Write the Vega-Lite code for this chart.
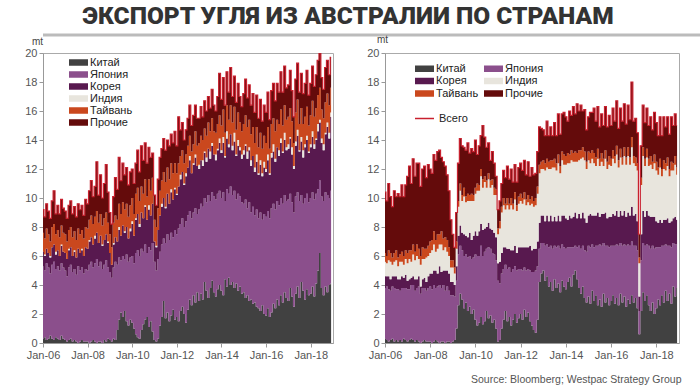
{
"$schema":"https://vega.github.io/schema/vega-lite/v6.json",
"background":"white",
"padding":{"left":10,"right":10,"top":4,"bottom":2},
"title":{"text":"ЭКСПОРТ УГЛЯ ИЗ АВСТРАЛИИ ПО СТРАНАМ","font":"Roboto","fontSize":24.5,"fontWeight":900,"color":"#333333","anchor":"start","dx":72,"offset":4},
"spacing":-4,
"datasets":{
"legend":[{"k":"C","name":"Китай","o":1},{"k":"J","name":"Япония","o":2},{"k":"K","name":"Корея","o":3},{"k":"I","name":"Индия","o":4},{"k":"T","name":"Тайвань","o":5},{"k":"P","name":"Прочие","o":6}],
"thermal":[
{"d":"2006-01","C":0.3,"J":5.0,"K":1.0,"I":0,"T":1.3,"P":1.6},
{"d":"2006-02","C":0.4,"J":4.6,"K":1.0,"I":0.1,"T":1.1,"P":1.5},
{"d":"2006-03","C":0.2,"J":5.3,"K":1.0,"I":0,"T":1.4,"P":1.7},
{"d":"2006-04","C":0.3,"J":4.9,"K":1.0,"I":0,"T":1.3,"P":1.6},
{"d":"2006-05","C":0.5,"J":4.3,"K":1.1,"I":0.1,"T":1.0,"P":1.6},
{"d":"2006-06","C":0.3,"J":5.1,"K":1.2,"I":0,"T":1.4,"P":1.8},
{"d":"2006-07","C":0.2,"J":5.4,"K":1.2,"I":0,"T":1.4,"P":2.3},
{"d":"2006-08","C":0.4,"J":4.7,"K":1.0,"I":0.2,"T":1.2,"P":1.4},
{"d":"2006-09","C":0.3,"J":5.0,"K":1.1,"I":0,"T":1.4,"P":1.7},
{"d":"2006-10","C":0.2,"J":4.8,"K":1.0,"I":0,"T":1.3,"P":1.6},
{"d":"2006-11","C":0.5,"J":5.0,"K":1.2,"I":0.1,"T":1.3,"P":1.8},
{"d":"2006-12","C":0.3,"J":4.9,"K":1.1,"I":0,"T":1.3,"P":1.7},
{"d":"2007-01","C":0.2,"J":4.8,"K":1.2,"I":0,"T":1.3,"P":1.6},
{"d":"2007-02","C":0.1,"J":4.5,"K":1.2,"I":0,"T":1.2,"P":1.6},
{"d":"2007-03","C":0.2,"J":5.0,"K":1.2,"I":0.1,"T":1.3,"P":1.7},
{"d":"2007-04","C":0.3,"J":5.1,"K":1.2,"I":0,"T":1.4,"P":1.8},
{"d":"2007-05","C":0.1,"J":4.8,"K":1.1,"I":0,"T":1.3,"P":1.6},
{"d":"2007-06","C":0.2,"J":4.9,"K":1.2,"I":0.1,"T":1.3,"P":1.7},
{"d":"2007-07","C":0.1,"J":4.6,"K":1.2,"I":0,"T":1.2,"P":1.6},
{"d":"2007-08","C":0.0,"J":5.3,"K":1.2,"I":0,"T":1.4,"P":1.7},
{"d":"2007-09","C":0.1,"J":4.9,"K":1.2,"I":0,"T":1.3,"P":1.7},
{"d":"2007-10","C":0.2,"J":5.0,"K":1.2,"I":0.1,"T":1.3,"P":1.7},
{"d":"2007-11","C":0.1,"J":4.7,"K":1.2,"I":0,"T":1.2,"P":1.6},
{"d":"2007-12","C":0.1,"J":5.0,"K":1.5,"I":0,"T":1.4,"P":1.9},
{"d":"2008-01","C":0.1,"J":4.9,"K":1.5,"I":0,"T":1.4,"P":1.7},
{"d":"2008-02","C":0.0,"J":5.4,"K":1.6,"I":0.1,"T":1.4,"P":2.0},
{"d":"2008-03","C":0.1,"J":5.5,"K":1.7,"I":0,"T":1.5,"P":2.4},
{"d":"2008-04","C":0.2,"J":5.0,"K":1.6,"I":0,"T":1.4,"P":1.9},
{"d":"2008-05","C":0.1,"J":5.4,"K":1.7,"I":0.2,"T":1.3,"P":2.1},
{"d":"2008-06","C":0.0,"J":5.8,"K":1.8,"I":0,"T":1.5,"P":3.4},
{"d":"2008-07","C":0.1,"J":5.2,"K":1.6,"I":0,"T":1.4,"P":1.9},
{"d":"2008-08","C":0.1,"J":5.5,"K":1.8,"I":0,"T":1.5,"P":2.7},
{"d":"2008-09","C":0.0,"J":5.1,"K":1.6,"I":0.1,"T":1.3,"P":1.9},
{"d":"2008-10","C":0.2,"J":5.2,"K":1.7,"I":0,"T":1.5,"P":2.4},
{"d":"2008-11","C":0.1,"J":5.6,"K":1.8,"I":0,"T":1.5,"P":3.3},
{"d":"2008-12","C":0.3,"J":4.9,"K":1.7,"I":0.1,"T":1.3,"P":2.1},
{"d":"2009-01","C":0.2,"J":4.7,"K":1.3,"I":0,"T":1.3,"P":1.5},
{"d":"2009-02","C":0.1,"J":4.4,"K":0.9,"I":0,"T":1.2,"P":1.6},
{"d":"2009-03","C":0.3,"J":4.9,"K":1.6,"I":0.1,"T":1.4,"P":1.8},
{"d":"2009-04","C":0.2,"J":5.4,"K":1.7,"I":0,"T":1.5,"P":2.6},
{"d":"2009-05","C":0.9,"J":4.5,"K":1.6,"I":0,"T":1.5,"P":2.1},
{"d":"2009-06","C":1.6,"J":4.3,"K":1.9,"I":0.2,"T":1.6,"P":3.2},
{"d":"2009-07","C":2.1,"J":3.6,"K":1.7,"I":0,"T":1.5,"P":2.3},
{"d":"2009-08","C":1.8,"J":4.2,"K":2.1,"I":0,"T":1.6,"P":2.7},
{"d":"2009-09","C":2.2,"J":3.6,"K":1.8,"I":0.1,"T":1.5,"P":2.4},
{"d":"2009-10","C":1.5,"J":4.6,"K":1.9,"I":0,"T":1.6,"P":2.5},
{"d":"2009-11","C":1.2,"J":4.4,"K":1.6,"I":0,"T":1.5,"P":2.2},
{"d":"2009-12","C":1.6,"J":4.3,"K":1.8,"I":0.2,"T":1.6,"P":2.3},
{"d":"2010-01","C":1.4,"J":4.6,"K":2.2,"I":0.2,"T":1.6,"P":2.0},
{"d":"2010-02","C":1.0,"J":4.5,"K":1.9,"I":0,"T":1.5,"P":2.1},
{"d":"2010-03","C":0.6,"J":5.6,"K":2.3,"I":0.1,"T":1.7,"P":2.1},
{"d":"2010-04","C":0.4,"J":6.0,"K":2.5,"I":0,"T":1.8,"P":2.6},
{"d":"2010-05","C":0.3,"J":5.7,"K":2.0,"I":0.2,"T":1.6,"P":2.0},
{"d":"2010-06","C":0.9,"J":5.6,"K":2.5,"I":0,"T":1.8,"P":2.8},
{"d":"2010-07","C":1.3,"J":5.0,"K":2.3,"I":0,"T":1.7,"P":2.3},
{"d":"2010-08","C":1.6,"J":5.2,"K":2.6,"I":0.1,"T":1.8,"P":2.5},
{"d":"2010-09","C":1.8,"J":4.4,"K":2.3,"I":0,"T":1.6,"P":2.3},
{"d":"2010-10","C":1.1,"J":5.5,"K":2.6,"I":0.3,"T":1.8,"P":2.2},
{"d":"2010-11","C":1.5,"J":4.9,"K":2.4,"I":0,"T":1.7,"P":2.3},
{"d":"2010-12","C":0.8,"J":6.1,"K":2.7,"I":0,"T":1.8,"P":1.7},
{"d":"2011-01","C":0.2,"J":5.4,"K":1.4,"I":0,"T":1.5,"P":1.7},
{"d":"2011-02","C":0.1,"J":4.9,"K":1.6,"I":0.1,"T":1.3,"P":1.5},
{"d":"2011-03","C":0.3,"J":5.5,"K":2.0,"I":0,"T":1.5,"P":2.0},
{"d":"2011-04","C":1.2,"J":5.1,"K":2.5,"I":0,"T":1.7,"P":2.3},
{"d":"2011-05","C":1.8,"J":5.0,"K":2.6,"I":0.2,"T":1.6,"P":2.2},
{"d":"2011-06","C":2.9,"J":4.3,"K":2.8,"I":0,"T":1.8,"P":2.3},
{"d":"2011-07","C":1.7,"J":5.2,"K":2.4,"I":0.1,"T":1.7,"P":2.2},
{"d":"2011-08","C":2.1,"J":5.4,"K":2.8,"I":0,"T":1.8,"P":1.9},
{"d":"2011-09","C":1.5,"J":5.6,"K":2.5,"I":0,"T":1.7,"P":2.3},
{"d":"2011-10","C":1.9,"J":5.7,"K":2.8,"I":0.2,"T":1.8,"P":2.0},
{"d":"2011-11","C":2.3,"J":5.0,"K":2.6,"I":0,"T":1.8,"P":2.1},
{"d":"2011-12","C":1.6,"J":6.2,"K":2.8,"I":0.1,"T":1.7,"P":2.2},
{"d":"2012-01","C":1.8,"J":5.7,"K":2.7,"I":0.1,"T":1.4,"P":1.9},
{"d":"2012-02","C":1.5,"J":6.4,"K":2.9,"I":0,"T":1.6,"P":3.2},
{"d":"2012-03","C":2.2,"J":6.0,"K":3.1,"I":0.3,"T":1.3,"P":1.8},
{"d":"2012-04","C":2.5,"J":6.1,"K":3.2,"I":0,"T":1.5,"P":1.9},
{"d":"2012-05","C":2.0,"J":6.0,"K":2.9,"I":0.1,"T":1.4,"P":1.6},
{"d":"2012-06","C":1.4,"J":7.0,"K":3.1,"I":0.2,"T":1.3,"P":1.7},
{"d":"2012-07","C":2.3,"J":6.5,"K":3.3,"I":0,"T":1.5,"P":1.9},
{"d":"2012-08","C":3.0,"J":6.1,"K":3.5,"I":0.3,"T":1.4,"P":2.1},
{"d":"2012-09","C":2.6,"J":6.0,"K":3.1,"I":0,"T":1.5,"P":1.8},
{"d":"2012-10","C":3.3,"J":5.7,"K":3.3,"I":0.1,"T":1.3,"P":2.0},
{"d":"2012-11","C":2.8,"J":6.5,"K":3.5,"I":0.2,"T":1.6,"P":1.8},
{"d":"2012-12","C":3.5,"J":5.4,"K":3.3,"I":0,"T":1.4,"P":1.9},
{"d":"2013-01","C":2.9,"J":6.3,"K":2.8,"I":0.3,"T":1.5,"P":1.7},
{"d":"2013-02","C":3.4,"J":6.2,"K":3.0,"I":0,"T":1.7,"P":2.0},
{"d":"2013-03","C":3.0,"J":6.4,"K":2.8,"I":0.4,"T":1.4,"P":1.6},
{"d":"2013-04","C":4.2,"J":5.8,"K":3.1,"I":0.1,"T":1.6,"P":1.9},
{"d":"2013-05","C":3.6,"J":6.1,"K":2.8,"I":0.3,"T":1.5,"P":1.7},
{"d":"2013-06","C":3.1,"J":7.1,"K":3.2,"I":0,"T":1.8,"P":1.8},
{"d":"2013-07","C":3.8,"J":6.0,"K":2.9,"I":0.5,"T":1.4,"P":1.6},
{"d":"2013-08","C":4.3,"J":6.1,"K":3.2,"I":0.2,"T":1.7,"P":2.0},
{"d":"2013-09","C":3.5,"J":6.6,"K":2.9,"I":0,"T":1.6,"P":1.8},
{"d":"2013-10","C":3.2,"J":6.7,"K":2.7,"I":0.4,"T":1.5,"P":1.5},
{"d":"2013-11","C":3.7,"J":6.6,"K":3.0,"I":0.1,"T":1.7,"P":1.9},
{"d":"2013-12","C":4.0,"J":6.5,"K":3.3,"I":0.3,"T":1.6,"P":2.9},
{"d":"2014-01","C":3.6,"J":6.4,"K":3.1,"I":0.2,"T":1.7,"P":1.8},
{"d":"2014-02","C":3.3,"J":7.1,"K":3.4,"I":0.4,"T":1.9,"P":2.2},
{"d":"2014-03","C":4.4,"J":5.4,"K":3.0,"I":0.1,"T":1.6,"P":1.9},
{"d":"2014-04","C":3.9,"J":6.7,"K":3.5,"I":0.5,"T":1.8,"P":2.3},
{"d":"2014-05","C":4.5,"J":5.8,"K":3.2,"I":0.2,"T":1.7,"P":1.9},
{"d":"2014-06","C":4.0,"J":6.8,"K":3.6,"I":0,"T":2.0,"P":2.6},
{"d":"2014-07","C":4.2,"J":6.0,"K":3.1,"I":0.3,"T":1.6,"P":1.8},
{"d":"2014-08","C":3.8,"J":6.7,"K":3.4,"I":0.6,"T":1.8,"P":2.1},
{"d":"2014-09","C":4.1,"J":5.8,"K":3.0,"I":0.1,"T":1.7,"P":1.9},
{"d":"2014-10","C":3.6,"J":6.7,"K":3.3,"I":0.4,"T":1.9,"P":2.0},
{"d":"2014-11","C":3.9,"J":6.2,"K":3.2,"I":0.2,"T":1.7,"P":1.8},
{"d":"2014-12","C":3.4,"J":6.3,"K":3.0,"I":0.3,"T":1.6,"P":1.7},
{"d":"2015-01","C":3.5,"J":6.1,"K":3.4,"I":0.3,"T":1.8,"P":2.1},
{"d":"2015-02","C":3.1,"J":6.8,"K":3.7,"I":0.1,"T":2.0,"P":2.5},
{"d":"2015-03","C":3.3,"J":6.0,"K":3.4,"I":0.5,"T":1.7,"P":2.0},
{"d":"2015-04","C":2.9,"J":6.8,"K":3.6,"I":0.2,"T":1.9,"P":2.4},
{"d":"2015-05","C":3.0,"J":6.0,"K":3.2,"I":0.4,"T":1.8,"P":2.0},
{"d":"2015-06","C":2.7,"J":6.7,"K":3.5,"I":0,"T":2.0,"P":2.3},
{"d":"2015-07","C":2.8,"J":6.0,"K":3.0,"I":0.3,"T":1.7,"P":2.1},
{"d":"2015-08","C":2.5,"J":6.7,"K":3.3,"I":0.5,"T":1.9,"P":2.2},
{"d":"2015-09","C":2.4,"J":6.2,"K":3.0,"I":0.1,"T":1.8,"P":2.0},
{"d":"2015-10","C":2.2,"J":6.8,"K":3.3,"I":0.3,"T":1.9,"P":2.3},
{"d":"2015-11","C":2.6,"J":5.9,"K":3.0,"I":0.2,"T":1.7,"P":1.9},
{"d":"2015-12","C":2.0,"J":6.9,"K":3.2,"I":0.4,"T":1.8,"P":2.1},
{"d":"2016-01","C":1.9,"J":6.8,"K":3.1,"I":0.2,"T":1.8,"P":2.1},
{"d":"2016-02","C":2.4,"J":6.7,"K":3.5,"I":0.4,"T":1.9,"P":2.4},
{"d":"2016-03","C":1.8,"J":6.8,"K":3.0,"I":0.1,"T":1.7,"P":2.0},
{"d":"2016-04","C":2.1,"J":7.2,"K":3.5,"I":0.3,"T":2.0,"P":2.3},
{"d":"2016-05","C":2.7,"J":6.9,"K":3.6,"I":0.5,"T":1.8,"P":2.4},
{"d":"2016-06","C":2.4,"J":6.8,"K":3.3,"I":0.2,"T":1.9,"P":2.1},
{"d":"2016-07","C":3.0,"J":6.8,"K":3.7,"I":0,"T":1.9,"P":2.5},
{"d":"2016-08","C":2.6,"J":6.9,"K":3.4,"I":0.4,"T":1.8,"P":2.2},
{"d":"2016-09","C":3.3,"J":6.7,"K":3.8,"I":0.3,"T":2.0,"P":2.6},
{"d":"2016-10","C":2.8,"J":6.8,"K":3.5,"I":0.1,"T":1.8,"P":2.3},
{"d":"2016-11","C":3.5,"J":6.7,"K":3.8,"I":0.5,"T":1.9,"P":2.7},
{"d":"2016-12","C":3.1,"J":6.7,"K":3.5,"I":0.2,"T":1.9,"P":2.2},
{"d":"2017-01","C":2.9,"J":7.0,"K":3.5,"I":0.3,"T":1.9,"P":2.2},
{"d":"2017-02","C":3.8,"J":6.5,"K":3.8,"I":0.1,"T":2.0,"P":2.6},
{"d":"2017-03","C":3.2,"J":6.5,"K":3.3,"I":0.5,"T":1.8,"P":2.1},
{"d":"2017-04","C":2.5,"J":6.5,"K":3.0,"I":0.2,"T":1.6,"P":1.8},
{"d":"2017-05","C":3.4,"J":6.7,"K":3.5,"I":0.3,"T":2.0,"P":2.3},
{"d":"2017-06","C":3.9,"J":6.5,"K":3.9,"I":0.4,"T":2.1,"P":2.5},
{"d":"2017-07","C":3.1,"J":6.7,"K":3.4,"I":0.1,"T":1.8,"P":2.2},
{"d":"2017-08","C":4.2,"J":6.0,"K":3.7,"I":0.3,"T":2.0,"P":2.4},
{"d":"2017-09","C":3.6,"J":6.0,"K":3.2,"I":0.5,"T":1.8,"P":2.1},
{"d":"2017-10","C":3.0,"J":7.0,"K":3.5,"I":0.2,"T":1.9,"P":2.3},
{"d":"2017-11","C":3.7,"J":6.6,"K":3.7,"I":0.3,"T":2.0,"P":2.5},
{"d":"2017-12","C":3.3,"J":6.4,"K":3.4,"I":0.1,"T":1.8,"P":2.1},
{"d":"2018-01","C":3.4,"J":6.6,"K":3.5,"I":0.2,"T":2.0,"P":2.2},
{"d":"2018-02","C":3.9,"J":6.5,"K":3.8,"I":0.4,"T":2.1,"P":2.4},
{"d":"2018-03","C":3.2,"J":6.7,"K":3.5,"I":0.3,"T":1.9,"P":2.1},
{"d":"2018-04","C":4.1,"J":6.2,"K":3.7,"I":0.1,"T":2.1,"P":2.3},
{"d":"2018-05","C":5.0,"J":5.6,"K":4.0,"I":0.5,"T":2.0,"P":2.4},
{"d":"2018-06","C":6.2,"J":5.0,"K":4.0,"I":0.2,"T":2.2,"P":2.4},
{"d":"2018-07","C":3.8,"J":6.3,"K":3.7,"I":0.3,"T":2.0,"P":2.2},
{"d":"2018-08","C":3.3,"J":6.5,"K":3.5,"I":0.4,"T":1.8,"P":2.0},
{"d":"2018-09","C":3.9,"J":6.5,"K":4.0,"I":0.1,"T":2.1,"P":2.4},
{"d":"2018-10","C":3.5,"J":6.7,"K":4.7,"I":0.3,"T":2.0,"P":2.3},
{"d":"2018-11","C":4.0,"J":6.0,"K":4.1,"I":0.4,"T":1.9,"P":2.1},
{"d":"2018-12","C":4.1,"J":6.4,"K":5.1,"I":0.3,"T":1.7,"P":2.1}
],
"met":[
{"d":"2006-01","C":0.3,"J":3.5,"K":0.8,"I":1.0,"T":0.6,"P":4.2},
{"d":"2006-02","C":0.2,"J":3.7,"K":0.7,"I":0.9,"T":0.5,"P":3.8},
{"d":"2006-03","C":0.1,"J":3.6,"K":0.9,"I":1.1,"T":0.7,"P":4.6},
{"d":"2006-04","C":0.2,"J":3.4,"K":0.8,"I":1.2,"T":0.6,"P":3.9},
{"d":"2006-05","C":0.3,"J":3.6,"K":0.7,"I":0.8,"T":0.5,"P":3.5},
{"d":"2006-06","C":0.1,"J":3.7,"K":0.8,"I":1.0,"T":0.6,"P":4.3},
{"d":"2006-07","C":0.2,"J":3.5,"K":0.9,"I":1.1,"T":0.7,"P":3.7},
{"d":"2006-08","C":0.1,"J":3.6,"K":0.7,"I":0.9,"T":0.6,"P":4.4},
{"d":"2006-09","C":0.2,"J":3.4,"K":0.8,"I":1.2,"T":0.5,"P":4.0},
{"d":"2006-10","C":0.1,"J":3.7,"K":0.8,"I":1.0,"T":0.7,"P":4.6},
{"d":"2006-11","C":0.3,"J":3.5,"K":0.7,"I":0.9,"T":0.6,"P":4.1},
{"d":"2006-12","C":0.2,"J":3.6,"K":0.9,"I":1.1,"T":0.6,"P":4.5},
{"d":"2007-01","C":0.1,"J":3.6,"K":0.6,"I":1.2,"T":0.7,"P":5.3},
{"d":"2007-02","C":0.2,"J":3.5,"K":0.7,"I":1.4,"T":0.6,"P":5.8},
{"d":"2007-03","C":0.3,"J":3.7,"K":0.5,"I":1.1,"T":0.8,"P":4.6},
{"d":"2007-04","C":0.2,"J":3.8,"K":0.6,"I":1.5,"T":0.7,"P":5.9},
{"d":"2007-05","C":0.1,"J":3.5,"K":0.8,"I":1.3,"T":0.6,"P":5.2},
{"d":"2007-06","C":0.2,"J":3.6,"K":0.6,"I":1.6,"T":0.8,"P":5.6},
{"d":"2007-07","C":0.1,"J":3.8,"K":0.7,"I":1.2,"T":0.7,"P":5.9},
{"d":"2007-08","C":0.0,"J":3.4,"K":0.5,"I":1.5,"T":0.6,"P":4.8},
{"d":"2007-09","C":0.1,"J":3.7,"K":0.6,"I":1.4,"T":0.8,"P":5.4},
{"d":"2007-10","C":0.2,"J":3.6,"K":0.7,"I":1.3,"T":0.7,"P":5.7},
{"d":"2007-11","C":0.1,"J":3.5,"K":0.6,"I":1.7,"T":0.6,"P":4.9},
{"d":"2007-12","C":0.1,"J":3.7,"K":0.8,"I":1.4,"T":0.7,"P":5.6},
{"d":"2008-01","C":0.1,"J":3.8,"K":0.9,"I":1.4,"T":0.8,"P":5.0},
{"d":"2008-02","C":0.0,"J":3.7,"K":1.1,"I":1.6,"T":0.7,"P":4.6},
{"d":"2008-03","C":0.1,"J":3.9,"K":1.0,"I":1.8,"T":0.9,"P":5.3},
{"d":"2008-04","C":0.2,"J":3.6,"K":1.2,"I":1.3,"T":0.8,"P":5.5},
{"d":"2008-05","C":0.1,"J":3.8,"K":0.9,"I":1.7,"T":1.0,"P":5.7},
{"d":"2008-06","C":0.0,"J":4.0,"K":1.3,"I":1.5,"T":0.7,"P":5.8},
{"d":"2008-07","C":0.1,"J":3.7,"K":1.1,"I":1.9,"T":0.9,"P":5.1},
{"d":"2008-08","C":0.1,"J":3.9,"K":1.0,"I":1.4,"T":0.8,"P":5.3},
{"d":"2008-09","C":0.0,"J":3.6,"K":1.4,"I":1.6,"T":0.7,"P":4.9},
{"d":"2008-10","C":0.1,"J":3.8,"K":1.1,"I":1.3,"T":0.8,"P":4.5},
{"d":"2008-11","C":0.1,"J":3.5,"K":1.2,"I":1.2,"T":0.6,"P":3.9},
{"d":"2008-12","C":0.0,"J":3.3,"K":0.9,"I":1.0,"T":0.5,"P":2.8},
{"d":"2009-01","C":0.1,"J":3.2,"K":0.9,"I":1.0,"T":0.5,"P":1.8},
{"d":"2009-02","C":0.2,"J":3.0,"K":0.8,"I":0.8,"T":0.4,"P":1.4},
{"d":"2009-03","C":1.0,"J":3.3,"K":1.0,"I":1.2,"T":0.5,"P":2.0},
{"d":"2009-04","C":2.6,"J":3.5,"K":1.3,"I":2.0,"T":0.4,"P":2.6},
{"d":"2009-05","C":3.4,"J":3.3,"K":1.4,"I":2.4,"T":0.5,"P":3.1},
{"d":"2009-06","C":3.0,"J":3.4,"K":1.2,"I":2.2,"T":0.4,"P":3.4},
{"d":"2009-07","C":2.4,"J":3.6,"K":1.5,"I":2.6,"T":0.6,"P":2.8},
{"d":"2009-08","C":2.8,"J":3.3,"K":1.3,"I":2.3,"T":0.4,"P":3.2},
{"d":"2009-09","C":2.2,"J":3.7,"K":1.4,"I":2.5,"T":0.5,"P":3.5},
{"d":"2009-10","C":2.5,"J":3.5,"K":1.6,"I":2.2,"T":0.4,"P":2.9},
{"d":"2009-11","C":2.0,"J":3.8,"K":1.3,"I":2.7,"T":0.5,"P":3.1},
{"d":"2009-12","C":2.3,"J":3.6,"K":1.5,"I":2.4,"T":0.4,"P":3.0},
{"d":"2010-01","C":1.6,"J":4.5,"K":1.6,"I":2.6,"T":0.4,"P":3.3},
{"d":"2010-02","C":1.2,"J":4.8,"K":1.4,"I":3.1,"T":0.5,"P":2.0},
{"d":"2010-03","C":1.4,"J":4.6,"K":1.7,"I":2.8,"T":0.4,"P":2.7},
{"d":"2010-04","C":1.8,"J":4.9,"K":1.5,"I":3.3,"T":0.5,"P":2.3},
{"d":"2010-05","C":1.3,"J":4.7,"K":1.8,"I":2.9,"T":0.6,"P":3.7},
{"d":"2010-06","C":1.5,"J":4.8,"K":1.6,"I":3.2,"T":0.4,"P":2.7},
{"d":"2010-07","C":2.2,"J":4.3,"K":1.5,"I":2.7,"T":0.5,"P":2.3},
{"d":"2010-08","C":1.7,"J":4.9,"K":1.7,"I":3.0,"T":0.4,"P":2.1},
{"d":"2010-09","C":1.9,"J":4.6,"K":1.4,"I":2.8,"T":0.5,"P":1.4},
{"d":"2010-10","C":1.4,"J":4.8,"K":1.6,"I":3.1,"T":0.4,"P":1.9},
{"d":"2010-11","C":1.6,"J":4.5,"K":1.5,"I":2.6,"T":0.5,"P":1.7},
{"d":"2010-12","C":1.0,"J":4.7,"K":1.6,"I":2.9,"T":0.4,"P":0.9},
{"d":"2011-01","C":0.1,"J":4.2,"K":1.2,"I":2.0,"T":0.4,"P":1.3},
{"d":"2011-02","C":0.2,"J":3.9,"K":1.5,"I":2.3,"T":0.5,"P":1.4},
{"d":"2011-03","C":1.0,"J":3.8,"K":1.4,"I":2.8,"T":0.4,"P":1.6},
{"d":"2011-04","C":1.6,"J":3.5,"K":1.5,"I":2.9,"T":0.5,"P":1.9},
{"d":"2011-05","C":2.2,"J":3.2,"K":1.2,"I":2.6,"T":0.4,"P":1.8},
{"d":"2011-06","C":1.5,"J":3.6,"K":1.4,"I":3.0,"T":0.5,"P":2.2},
{"d":"2011-07","C":1.8,"J":3.4,"K":1.3,"I":2.7,"T":0.4,"P":1.7},
{"d":"2011-08","C":1.2,"J":3.7,"K":1.5,"I":3.1,"T":0.5,"P":2.0},
{"d":"2011-09","C":1.6,"J":3.5,"K":1.3,"I":2.8,"T":0.4,"P":1.5},
{"d":"2011-10","C":2.0,"J":3.3,"K":1.4,"I":3.2,"T":0.5,"P":1.9},
{"d":"2011-11","C":1.4,"J":3.6,"K":1.2,"I":2.9,"T":0.4,"P":1.6},
{"d":"2011-12","C":1.7,"J":3.4,"K":1.5,"I":3.0,"T":0.5,"P":2.0},
{"d":"2012-01","C":2.0,"J":3.1,"K":1.5,"I":3.2,"T":0.5,"P":2.1},
{"d":"2012-02","C":1.6,"J":3.4,"K":1.6,"I":3.0,"T":0.4,"P":1.9},
{"d":"2012-03","C":2.3,"J":2.9,"K":1.4,"I":3.3,"T":0.5,"P":2.2},
{"d":"2012-04","C":1.8,"J":3.2,"K":1.6,"I":2.9,"T":0.4,"P":1.7},
{"d":"2012-05","C":2.1,"J":3.0,"K":1.5,"I":3.1,"T":0.5,"P":2.3},
{"d":"2012-06","C":1.5,"J":3.5,"K":1.7,"I":2.8,"T":0.4,"P":1.6},
{"d":"2012-07","C":1.2,"J":3.7,"K":1.5,"I":3.2,"T":0.5,"P":2.0},
{"d":"2012-08","C":0.9,"J":4.0,"K":1.6,"I":2.9,"T":0.4,"P":1.8},
{"d":"2012-09","C":0.7,"J":4.3,"K":1.5,"I":3.0,"T":0.5,"P":1.7},
{"d":"2012-10","C":1.6,"J":3.7,"K":1.7,"I":3.3,"T":0.5,"P":2.4},
{"d":"2012-11","C":4.2,"J":2.3,"K":1.8,"I":3.4,"T":0.6,"P":2.6},
{"d":"2012-12","C":4.8,"J":2.1,"K":1.9,"I":3.2,"T":0.5,"P":2.3},
{"d":"2013-01","C":5.0,"J":1.9,"K":1.9,"I":3.2,"T":0.6,"P":2.1},
{"d":"2013-02","C":4.3,"J":2.4,"K":1.7,"I":3.5,"T":0.5,"P":1.9},
{"d":"2013-03","C":4.6,"J":2.2,"K":2.0,"I":3.3,"T":0.6,"P":2.6},
{"d":"2013-04","C":3.9,"J":2.7,"K":1.8,"I":3.6,"T":0.5,"P":1.8},
{"d":"2013-05","C":4.2,"J":2.5,"K":2.1,"I":3.2,"T":0.6,"P":2.3},
{"d":"2013-06","C":3.6,"J":2.9,"K":1.9,"I":3.7,"T":0.5,"P":1.7},
{"d":"2013-07","C":4.4,"J":2.3,"K":2.0,"I":3.4,"T":0.6,"P":2.5},
{"d":"2013-08","C":3.8,"J":2.8,"K":1.8,"I":3.5,"T":0.5,"P":1.9},
{"d":"2013-09","C":4.1,"J":2.6,"K":2.1,"I":3.6,"T":0.6,"P":2.8},
{"d":"2013-10","C":3.5,"J":3.0,"K":1.9,"I":3.3,"T":0.5,"P":2.2},
{"d":"2013-11","C":4.3,"J":2.5,"K":2.0,"I":3.8,"T":0.6,"P":2.6},
{"d":"2013-12","C":3.9,"J":2.7,"K":2.2,"I":3.5,"T":0.7,"P":2.9},
{"d":"2014-01","C":3.7,"J":2.8,"K":2.1,"I":3.7,"T":0.6,"P":2.7},
{"d":"2014-02","C":4.2,"J":2.4,"K":1.9,"I":3.9,"T":0.7,"P":2.2},
{"d":"2014-03","C":4.5,"J":2.1,"K":2.2,"I":3.6,"T":0.6,"P":3.0},
{"d":"2014-04","C":3.9,"J":2.7,"K":2.0,"I":4.0,"T":0.7,"P":2.4},
{"d":"2014-05","C":4.7,"J":1.9,"K":2.1,"I":3.8,"T":0.6,"P":3.2},
{"d":"2014-06","C":5.0,"J":1.7,"K":2.3,"I":3.5,"T":0.7,"P":2.6},
{"d":"2014-07","C":4.4,"J":2.2,"K":2.0,"I":3.9,"T":0.6,"P":3.4},
{"d":"2014-08","C":3.8,"J":2.9,"K":2.2,"I":3.7,"T":0.7,"P":2.7},
{"d":"2014-09","C":3.4,"J":3.1,"K":2.1,"I":4.1,"T":0.6,"P":3.1},
{"d":"2014-10","C":3.9,"J":2.8,"K":2.3,"I":3.8,"T":0.7,"P":2.5},
{"d":"2014-11","C":3.1,"J":3.3,"K":2.2,"I":4.0,"T":0.6,"P":2.9},
{"d":"2014-12","C":2.8,"J":3.5,"K":2.0,"I":3.7,"T":0.5,"P":2.2},
{"d":"2015-01","C":3.2,"J":3.5,"K":2.1,"I":3.8,"T":0.6,"P":2.4},
{"d":"2015-02","C":2.7,"J":3.9,"K":2.3,"I":3.5,"T":0.7,"P":2.8},
{"d":"2015-03","C":3.6,"J":3.2,"K":2.0,"I":3.9,"T":0.6,"P":2.6},
{"d":"2015-04","C":2.9,"J":3.7,"K":2.2,"I":3.6,"T":0.7,"P":3.1},
{"d":"2015-05","C":3.3,"J":3.4,"K":2.1,"I":3.4,"T":0.6,"P":2.5},
{"d":"2015-06","C":2.6,"J":4.1,"K":2.3,"I":3.7,"T":0.7,"P":2.9},
{"d":"2015-07","C":3.0,"J":3.8,"K":1.9,"I":3.5,"T":0.5,"P":2.2},
{"d":"2015-08","C":2.5,"J":4.2,"K":2.2,"I":3.6,"T":0.6,"P":2.7},
{"d":"2015-09","C":3.4,"J":3.5,"K":2.0,"I":3.3,"T":0.5,"P":2.3},
{"d":"2015-10","C":2.8,"J":3.9,"K":2.3,"I":3.7,"T":0.6,"P":3.0},
{"d":"2015-11","C":3.1,"J":3.6,"K":1.9,"I":3.4,"T":0.5,"P":2.4},
{"d":"2015-12","C":2.6,"J":4.0,"K":2.1,"I":3.6,"T":0.6,"P":2.8},
{"d":"2016-01","C":2.9,"J":3.8,"K":2.0,"I":3.5,"T":0.5,"P":2.3},
{"d":"2016-02","C":3.3,"J":3.4,"K":2.2,"I":3.8,"T":0.6,"P":2.9},
{"d":"2016-03","C":2.7,"J":4.0,"K":2.1,"I":3.6,"T":0.5,"P":2.4},
{"d":"2016-04","C":3.1,"J":3.7,"K":2.3,"I":3.9,"T":0.6,"P":3.1},
{"d":"2016-05","C":2.6,"J":4.1,"K":2.0,"I":3.4,"T":0.5,"P":2.2},
{"d":"2016-06","C":3.4,"J":3.5,"K":2.2,"I":3.7,"T":0.6,"P":2.8},
{"d":"2016-07","C":2.8,"J":3.9,"K":2.1,"I":3.5,"T":0.5,"P":2.5},
{"d":"2016-08","C":3.2,"J":3.6,"K":2.3,"I":3.8,"T":0.6,"P":3.0},
{"d":"2016-09","C":2.5,"J":4.2,"K":2.0,"I":3.6,"T":0.5,"P":2.3},
{"d":"2016-10","C":3.0,"J":3.8,"K":2.2,"I":3.9,"T":0.6,"P":2.9},
{"d":"2016-11","C":2.7,"J":4.0,"K":2.1,"I":3.5,"T":0.5,"P":2.6},
{"d":"2016-12","C":3.3,"J":3.7,"K":2.4,"I":4.1,"T":0.7,"P":3.8},
{"d":"2017-01","C":2.8,"J":3.9,"K":2.1,"I":3.6,"T":0.5,"P":2.4},
{"d":"2017-02","C":3.1,"J":3.6,"K":2.2,"I":3.3,"T":0.6,"P":2.7},
{"d":"2017-03","C":2.4,"J":4.0,"K":2.0,"I":3.5,"T":0.5,"P":2.1},
{"d":"2017-04","C":0.6,"J":1.6,"K":1.0,"I":2.3,"T":0.4,"P":1.6},
{"d":"2017-05","C":2.2,"J":3.5,"K":1.8,"I":3.4,"T":0.5,"P":2.2},
{"d":"2017-06","C":3.5,"J":3.4,"K":2.2,"I":3.8,"T":0.6,"P":2.9},
{"d":"2017-07","C":2.9,"J":3.8,"K":2.0,"I":3.5,"T":0.5,"P":2.5},
{"d":"2017-08","C":3.3,"J":3.5,"K":2.3,"I":3.7,"T":0.6,"P":2.8},
{"d":"2017-09","C":2.6,"J":4.1,"K":2.1,"I":3.4,"T":0.5,"P":2.3},
{"d":"2017-10","C":2.2,"J":4.3,"K":2.2,"I":3.6,"T":0.6,"P":2.7},
{"d":"2017-11","C":2.8,"J":3.9,"K":2.0,"I":3.3,"T":0.5,"P":2.2},
{"d":"2017-12","C":2.0,"J":4.5,"K":2.2,"I":3.7,"T":0.6,"P":2.9},
{"d":"2018-01","C":2.4,"J":4.2,"K":1.8,"I":3.5,"T":0.6,"P":2.7},
{"d":"2018-02","C":3.0,"J":3.6,"K":1.7,"I":3.3,"T":0.5,"P":2.2},
{"d":"2018-03","C":2.6,"J":4.0,"K":1.9,"I":3.6,"T":0.6,"P":2.9},
{"d":"2018-04","C":3.3,"J":3.4,"K":1.6,"I":3.2,"T":0.5,"P":2.3},
{"d":"2018-05","C":2.8,"J":3.9,"K":1.8,"I":3.5,"T":0.6,"P":3.0},
{"d":"2018-06","C":3.6,"J":3.2,"K":1.7,"I":3.4,"T":0.5,"P":2.5},
{"d":"2018-07","C":2.9,"J":3.8,"K":1.9,"I":3.6,"T":0.6,"P":2.8},
{"d":"2018-08","C":3.4,"J":3.3,"K":1.6,"I":3.2,"T":0.5,"P":2.4},
{"d":"2018-09","C":2.7,"J":3.9,"K":1.8,"I":3.5,"T":0.6,"P":3.1},
{"d":"2018-10","C":3.9,"J":3.0,"K":1.7,"I":3.3,"T":0.5,"P":2.6},
{"d":"2018-11","C":3.2,"J":3.6,"K":1.9,"I":3.6,"T":0.6,"P":2.9},
{"d":"2018-12","C":3.8,"J":3.0,"K":1.7,"I":3.1,"T":0.5,"P":2.9}
]
},
"vconcat":[
{"width":680,"height":1,"data":{"values":[{}]},"view":{"stroke":null},
 "mark":{"type":"rule","color":"#bbbbbb","strokeWidth":3},
 "encoding":{"x":{"datum":0,"type":"quantitative","scale":{"domain":[0,1]},"axis":null},"x2":{"datum":1},"y":{"datum":0,"type":"quantitative","scale":{"domain":[0,1]},"axis":null}}},
{"hconcat":[
 {"width":290,"height":290,"data":{"name":"thermal"},
  "transform":[{"fold":["C","J","K","I","T","P"],"as":["k","v"]},{"lookup":"k","from":{"data":{"name":"legend"},"key":"k","fields":["name","o"]}}],
  "layer":[
   {"mark":{"type":"area","interpolate":"step","clip":true},
    "encoding":{
     "x":{"field":"d","type":"temporal","title":null,"scale":{"domain":[{"year":2006,"month":1,"date":1},{"year":2019,"month":1,"date":1}]},"axis":{"format":"%b-%y","tickCount":{"interval":"year","step":2},"labelFlush":false,"grid":false}},
     "y":{"field":"v","type":"quantitative","stack":"zero","title":"mt","scale":{"domain":[0,20]},"axis":{"values":[0,2,4,6,8,10,12,14,16,18,20],"labelOverlap":false,"titleAngle":0,"titleAlign":"center","titleBaseline":"bottom","titleX":-6,"titleY":-7,"minExtent":32,"maxExtent":32,"grid":false}},
     "color":{"field":"name","type":"nominal","scale":{"domain":["Китай","Япония","Корея","Индия","Тайвань","Прочие"],"range":["#414141","#8b4f8c","#58194f","#e8e5dd","#ca481e","#640b0b"]},
      "legend":{"orient":"none","legendX":30,"legendY":4,"title":null,"symbolType":"M-1.9,-0.65H1.9V0.65H-1.9Z","symbolSize":100,"symbolStrokeWidth":0,"labelFontSize":11,"labelColor":"#222222","rowPadding":0,"labelOffset":6}},
     "order":{"field":"o","type":"quantitative"}}},
   {"mark":{"type":"line","interpolate":"step","color":"#c8202e","strokeWidth":1.2,"clip":true},
    "encoding":{"x":{"field":"d","type":"temporal","title":null,"axis":{"format":"%b-%y","tickCount":{"interval":"year","step":2},"labelFlush":false,"grid":false}},
     "y":{"aggregate":"sum","field":"v","type":"quantitative","title":"mt","axis":{"values":[0,2,4,6,8,10,12,14,16,18,20],"labelOverlap":false,"titleAngle":0,"titleAlign":"center","titleBaseline":"bottom","titleX":-6,"titleY":-7,"minExtent":32,"maxExtent":32,"grid":false}}}}
  ]},
 {"width":294,"height":290,"data":{"name":"met"},
  "transform":[{"fold":["C","J","K","I","T","P"],"as":["k","v"]},{"lookup":"k","from":{"data":{"name":"legend"},"key":"k","fields":["name","o"]}}],
  "layer":[
   {"mark":{"type":"area","interpolate":"step","clip":true},
    "encoding":{
     "x":{"field":"d","type":"temporal","title":null,"scale":{"domain":[{"year":2006,"month":1,"date":1},{"year":2019,"month":1,"date":1}]},"axis":{"format":"%b-%y","tickCount":{"interval":"year","step":2},"labelFlush":false,"grid":false}},
     "y":{"field":"v","type":"quantitative","stack":"zero","title":"mt","scale":{"domain":[0,20]},"axis":{"values":[0,2,4,6,8,10,12,14,16,18,20],"labelOverlap":false,"titleAngle":0,"titleAlign":"center","titleBaseline":"bottom","titleX":-3,"titleY":-9,"minExtent":30,"maxExtent":30,"grid":false}},
     "color":{"field":"name","type":"nominal","scale":{"domain":["Китай","Корея","Тайвань","Япония","Индия","Прочие"],"range":["#414141","#58194f","#ca481e","#8b4f8c","#e8e5dd","#640b0b"]},
      "legend":{"orient":"none","legendX":34,"legendY":10,"columns":2,"columnPadding":5,"title":null,"symbolType":"M-1.9,-0.65H1.9V0.65H-1.9Z","symbolSize":100,"symbolStrokeWidth":0,"labelFontSize":11,"labelColor":"#222222","rowPadding":0.5,"labelOffset":6}},
     "order":{"field":"o","type":"quantitative"}}},
   {"mark":{"type":"line","interpolate":"step","strokeWidth":1.2,"clip":true},
    "encoding":{"x":{"field":"d","type":"temporal","title":null,"axis":{"format":"%b-%y","tickCount":{"interval":"year","step":2},"labelFlush":false,"grid":false}},
     "y":{"aggregate":"sum","field":"v","type":"quantitative","title":"mt","axis":{"values":[0,2,4,6,8,10,12,14,16,18,20],"labelOverlap":false,"titleAngle":0,"titleAlign":"center","titleBaseline":"bottom","titleX":-3,"titleY":-9,"minExtent":30,"maxExtent":30,"grid":false}},
     "stroke":{"datum":"Всего","type":"nominal","scale":{"domain":["Всего"],"range":["#c8202e"]},"legend":{"orient":"none","legendX":29,"legendY":55,"title":null,"symbolType":"stroke","symbolSize":361,"symbolStrokeWidth":1.5,"labelFontSize":11,"labelColor":"#222222","labelOffset":4}}}}
  ]}
 ],
 "spacing":20,
 "resolve":{"scale":{"color":"independent","stroke":"independent"},"legend":{"color":"independent","stroke":"independent"}},
 "title":{"text":"Source: Bloomberg; Westpac Strategy Group","orient":"bottom","anchor":"end","fontSize":10.5,"fontWeight":"normal","color":"#555555","font":"Liberation Sans","offset":14,"dx":2}}
],
"config":{
 "font":"Liberation Sans",
 "view":{"stroke":"#aaaaaa"},
 "axis":{"labelFont":"Liberation Sans","labelFontSize":11,"labelColor":"#555555","tickColor":"#999999","domainColor":"#999999","tickSize":4,"labelPadding":2,"titleFont":"Liberation Sans","titleFontWeight":"normal","titleFontSize":10,"titleColor":"#444444"},
 "legend":{"labelFont":"Liberation Sans"}
}
}
